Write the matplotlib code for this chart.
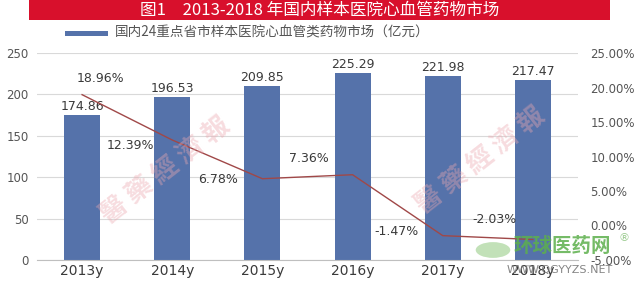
import matplotlib
matplotlib.use("Agg")
import matplotlib.pyplot as plt
from matplotlib.patches import Rectangle, Circle

plt.rcParams['font.family'] = ['Noto Sans CJK SC', 'DejaVu Sans']

# data
years = ['2013y', '2014y', '2015y', '2016y', '2017y', '2018y']
market = [174.86, 196.53, 209.85, 225.29, 221.98, 217.47]
growth = [18.96, 12.39, 6.78, 7.36, -1.47, -2.03]
growth_labels = ['18.96%', '12.39%', '6.78%', '7.36%', '-1.47%', '-2.03%']
# pixel offsets of the growth labels from their points
growth_offsets = [(18, 16), (-42, -5), (-44, -1), (-44, 16), (-46, 4), (-38, 20)]

title = '图1　2013-2018 年国内样本医院心血管药物市场'
legend_text = '国内24重点省市样本医院心血管类药物市场（亿元）'

bar_color = '#5572AA'
line_color = '#A04848'
text_color = '#3A3A3A'
grid_color = '#D9D9D9'

fig = plt.figure(figsize=(6.4, 2.92), dpi=100)
fig.patch.set_facecolor('white')

# red title banner
fig.patches.append(Rectangle((29 / 640, 1 - 20 / 292), 581 / 640, 20 / 292,
                             transform=fig.transFigure, facecolor='#D8102C',
                             edgecolor='none'))
fig.text(320 / 640, 1 - 10 / 292, title, color='white', fontsize=12,
         ha='center', va='center')

# legend
fig.patches.append(Rectangle((65 / 640, 1 - 35.5 / 292), 43 / 640, 5 / 292,
                             transform=fig.transFigure, facecolor=bar_color,
                             edgecolor='none'))
fig.text(115 / 640, 1 - 33 / 292, legend_text, color='#555555', fontsize=9.8,
         ha='left', va='center')

ax = fig.add_axes([37 / 640, 1 - 260 / 292, 541 / 640, 207 / 292])
x = list(range(len(years)))
ax.bar(x, market, width=0.4, color=bar_color, zorder=2)
ax.set_ylim(0, 250)
ax.set_yticks([0, 50, 100, 150, 200, 250])
ax.set_xlim(-0.5, len(years) - 0.5)
ax.set_xticks(x)
ax.set_xticklabels(years, fontsize=10, color=text_color, family='DejaVu Sans')
ax.tick_params(axis='y', labelsize=8.5, colors='#555555', length=0, pad=6)
ax.tick_params(axis='x', length=0, pad=3)
ax.grid(axis='y', color=grid_color, linewidth=0.8, zorder=0)
for s in ['top', 'right', 'left']:
    ax.spines[s].set_visible(False)
ax.spines['bottom'].set_color('#BFBFBF')
for lab in ax.get_yticklabels():
    lab.set_family('DejaVu Sans')

for xi, v in zip(x, market):
    ax.annotate(f'{v:.2f}', (xi, v), xytext=(0, 2), textcoords='offset pixels',
                ha='center', va='bottom', fontsize=9, color=text_color,
                family='DejaVu Sans')

ax2 = ax.twinx()
ax2.plot(x, growth, color=line_color, linewidth=1.0, zorder=3)
ax2.set_ylim(-5, 25)
ax2.set_yticks([-5, 0, 5, 10, 15, 20, 25])
ax2.set_yticklabels([f'{t:.2f}%' for t in [-5, 0, 5, 10, 15, 20, 25]],
                    family='DejaVu Sans')
ax2.tick_params(axis='y', labelsize=8.5, colors='#555555', length=0, pad=9)
for s in ['top', 'right', 'left', 'bottom']:
    ax2.spines[s].set_visible(False)

for xi, v, lab, off in zip(x, growth, growth_labels, growth_offsets):
    ax2.annotate(lab, (xi, v), xytext=off, textcoords='offset pixels',
                 ha='center', va='center', fontsize=9, color=text_color,
                 family='DejaVu Sans', zorder=4)

# faint newspaper watermark
for (wx, wy) in [(165 / 640, 1 - 170 / 292), (480 / 640, 1 - 160 / 292)]:
    fig.text(wx, wy, '醫 藥 經 濟 報', family='Noto Sans CJK TC', fontsize=19,
             color='#EBA8B0', alpha=0.4, rotation=38, ha='center',
             va='center', fontweight='bold')

# green site logo, bottom right
fig.patches.append(Circle((493 / 640, 1 - 250 / 292), 0.027,
                          transform=fig.transFigure, facecolor='#A8D59A',
                          edgecolor='none', alpha=0.7))
fig.text(562 / 640, 1 - 246 / 292, '环球医药网', color='#5DB04C', fontsize=14,
         fontweight='bold', ha='center', va='center', alpha=0.85)
fig.text(624 / 640, 1 - 238 / 292, '®', color='#9BCB8F', fontsize=8,
         ha='center', va='center', family='DejaVu Sans')
fig.text(560 / 640, 1 - 270 / 292, 'WWW.QGYYZS.NET', color='#777777',
         fontsize=8, ha='center', va='center', family='DejaVu Sans', alpha=0.9)

fig.savefig('out.png', dpi=100)
